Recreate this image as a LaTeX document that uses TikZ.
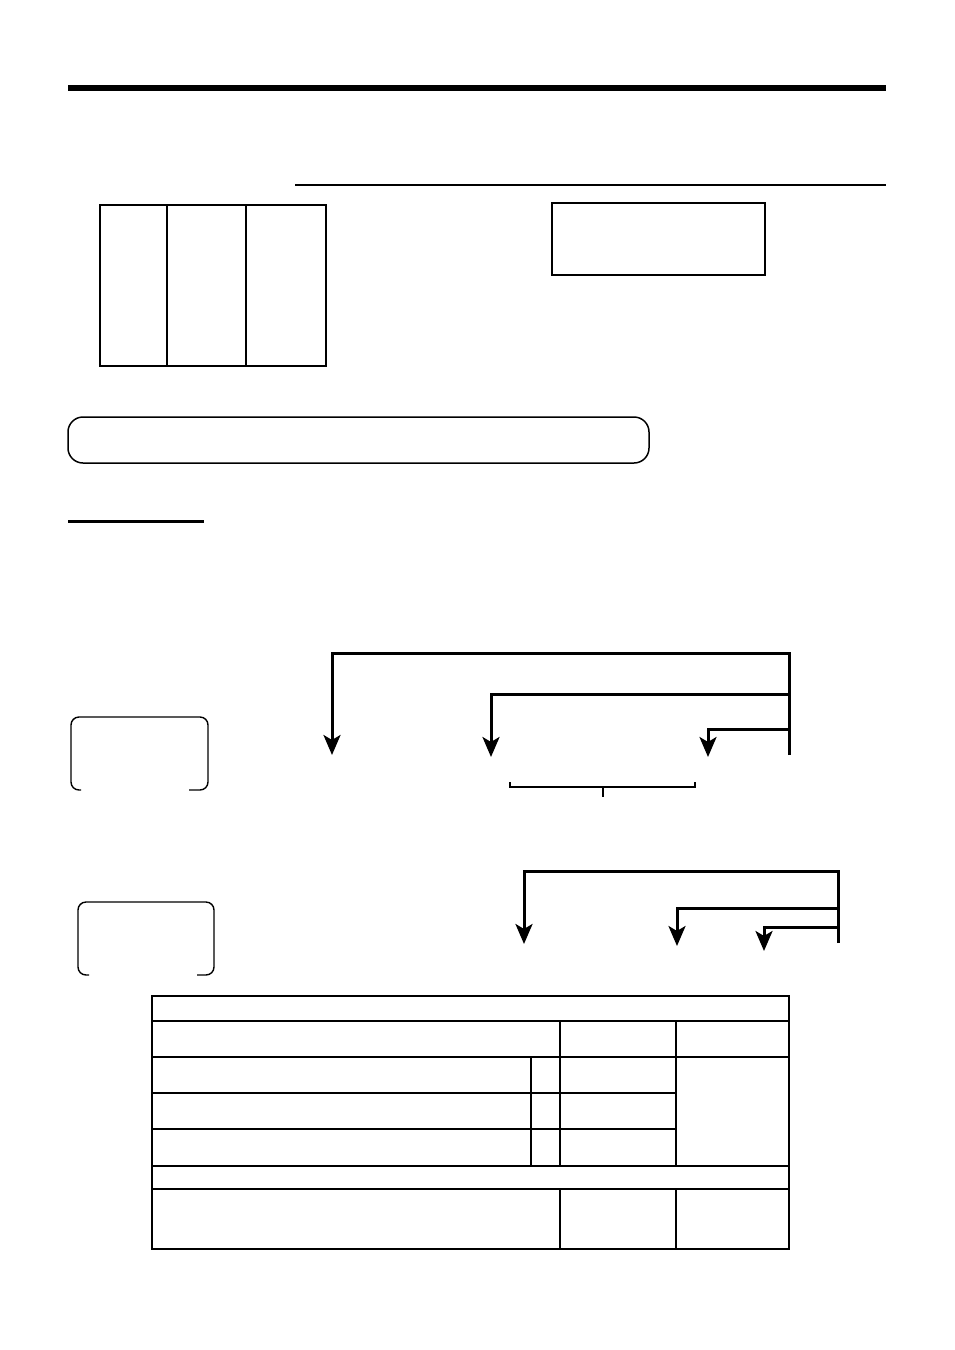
\documentclass[tikz,border=0pt]{standalone}
\usetikzlibrary{arrows.meta}
\begin{document}
\begin{tikzpicture}[x=1pt,y=-1pt,line join=miter,
  thickbar/.style={line width=6pt},
  thinrule/.style={line width=1.3pt},
  panel/.style={line width=2.4pt},
  panelsep/.style={line width=1.5pt},
  framebox/.style={line width=1.4pt},
  keybox/.style={line width=1.4pt,rounded corners=8pt},
  flowarrow/.style={line width=3pt,-{Stealth[length=20pt,width=17pt,inset=5pt]}},
  brace/.style={line width=1.6pt},
  tabouter/.style={line width=2.4pt},
  tabthick/.style={line width=2.2pt},
  tabthin/.style={line width=1.1pt}]
\useasboundingbox (0,0) rectangle (954,1350);
% header rules
\draw[thickbar] (68,88) -- (886,88);
\draw[thinrule] (295,185) -- (886,185);
% three-column panel
\draw[panel] (100,205) rectangle (326,366);
\draw[panelsep] (167,205) -- (167,366);
\draw[panelsep] (246,205) -- (246,366);
% display box
\draw[framebox] (552,203) rectangle (765,275);
% rounded bar
\draw[line width=1.5pt,rounded corners=15pt] (68,417) rectangle (649,463);
% underline
\draw[line width=3pt] (68,521) -- (204,521);
% first key bracket
\draw[keybox] (81,790) -- (71,790) -- (71,717) -- (208,717) -- (208,790) -- (189,790);
% first flow
\coordinate (r1b) at (789,755);
\coordinate (r1t) at (789,653);
\draw[flowarrow] (r1b) -- (r1t) -- (332,653) -- (332,755);
\draw[flowarrow] (789,694) -- (491,694) -- (491,757);
\draw[flowarrow] (789,729) -- (708,729) -- (708,757);
% brace
\draw[brace] (510,782) -- (510,787) -- (695,787) -- (695,782);
\draw[brace] (603,787) -- (603,797);
% second key bracket
\draw[keybox] (89,975) -- (78,975) -- (78,902) -- (214,902) -- (214,975) -- (197,975);
% second flow
\draw[flowarrow] (838,943) -- (838,871) -- (524,871) -- (524,944);
\draw[flowarrow] (838,908) -- (677,908) -- (677,946);
\draw[flowarrow] (838,927) -- (764,927) -- (764,951);
% table
\draw[tabouter] (152,996) rectangle (789,1249);
\draw[tabthin] (152,1021) -- (789,1021);
\draw[tabthick] (152,1057) -- (789,1057);
\draw[tabthin] (152,1093) -- (676,1093);
\draw[tabthin] (152,1129) -- (676,1129);
\draw[tabthick] (152,1166) -- (789,1166);
\draw[tabthick] (152,1189) -- (789,1189);
\draw[tabthin] (560,1021) -- (560,1166);
\draw[tabthick] (676,1021) -- (676,1166);
\draw[tabthin] (531,1057) -- (531,1166);
\draw[tabthin] (560,1189) -- (560,1249);
\draw[tabthick] (676,1189) -- (676,1249);
\end{tikzpicture}
\end{document}
